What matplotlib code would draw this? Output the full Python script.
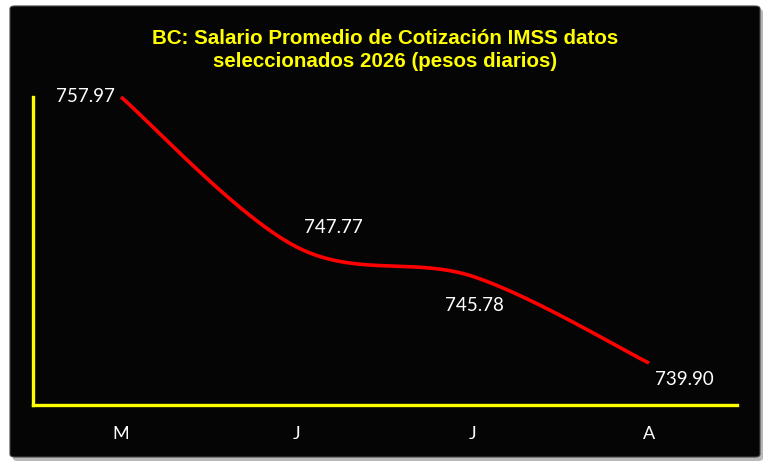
import numpy as np
import matplotlib
matplotlib.use("Agg")
import matplotlib.pyplot as plt
from matplotlib.patches import FancyBboxPatch

months = ["M", "J", "J", "A"]
salario = [757.97, 747.77, 745.78, 739.90]
title = "BC: Salario Promedio de Cotización IMSS datos\nseleccionados 2026 (pesos diarios)"


def smooth(xs, ys, n=60):
    # Excel-style smoothing: Catmull-Rom bezier between the points
    xs = np.asarray(xs, float)
    ys = np.asarray(ys, float)
    px, py = [], []
    for i in range(len(xs) - 1):
        x0, y0 = (xs[i - 1], ys[i - 1]) if i > 0 else (xs[i], ys[i])
        x3, y3 = (xs[i + 2], ys[i + 2]) if i + 2 < len(xs) else (xs[i + 1], ys[i + 1])
        x1, y1, x2, y2 = xs[i], ys[i], xs[i + 1], ys[i + 1]
        c1x, c1y = x1 + (x2 - x0) / 6, y1 + (y2 - y0) / 6
        c2x, c2y = x2 - (x3 - x1) / 6, y2 - (y3 - y1) / 6
        t = np.linspace(0, 1, n)
        px.append((1 - t) ** 3 * x1 + 3 * (1 - t) ** 2 * t * c1x + 3 * (1 - t) * t ** 2 * c2x + t ** 3 * x2)
        py.append((1 - t) ** 3 * y1 + 3 * (1 - t) ** 2 * t * c1y + 3 * (1 - t) * t ** 2 * c2y + t ** 3 * y2)
    return np.concatenate(px), np.concatenate(py)


fig = plt.figure(figsize=(7.7, 4.71), dpi=100)
fig.patch.set_facecolor("white")

# shadow + black panel
shadow = FancyBboxPatch((13 / 770, 1 - 461 / 471), 750 / 770, 452 / 471,
                        boxstyle="round,pad=0,rounding_size=0.006",
                        transform=fig.transFigure, facecolor="#b8b8b8",
                        edgecolor="none", zorder=-3)
panel = FancyBboxPatch((10 / 770, 1 - 457 / 471), 750 / 770, 451 / 471,
                       boxstyle="round,pad=0,rounding_size=0.006",
                       transform=fig.transFigure, facecolor="#050505",
                       edgecolor="#444444", linewidth=0.8, zorder=-2)
fig.patches.extend([shadow, panel])

fig.text(0.5, 1 - 50 / 471, title, ha="center", va="center", color="#ffff00",
         fontsize=14.8, fontweight="bold", family="Liberation Sans", linespacing=1.25)

ax = fig.add_axes([33 / 770, 1 - 405 / 471, 704 / 770, 308 / 471])
ax.set_facecolor("none")
ax.set_zorder(2)
x = np.arange(len(months))
sx, sy = smooth(x, salario)
ax.plot(sx, sy, color="#ff0000", lw=2.6, solid_capstyle="butt", clip_on=False)

ax.set_xlim(-0.5, len(months) - 0.5)
ax.set_ylim(737.05, 757.97)

# label placement (points), like the excel data labels
offsets = [(-4.3, 0, "right"), (5, 14.4, "left"),
           (0.7, -21, "center"), (4.3, -12, "left")]
for xi, v, (dx, dy, ha) in zip(x, salario, offsets):
    ax.annotate(f"{v:.2f}", (xi, v), xytext=(dx, dy), textcoords="offset points",
                ha=ha, va="center", color="white", fontsize=13.5, family="Lato")

for s in ["top", "right"]:
    ax.spines[s].set_visible(False)
for s in ["left", "bottom"]:
    ax.spines[s].set_color("#ffff00")
    ax.spines[s].set_linewidth(2.4)

ax.set_xticks(x)
ax.set_xticklabels(months, color="white", fontsize=13, family="Lato")
ax.tick_params(axis="x", length=0, pad=15)
ax.set_yticks([])

fig.savefig("out.png", dpi=100, facecolor="white")
